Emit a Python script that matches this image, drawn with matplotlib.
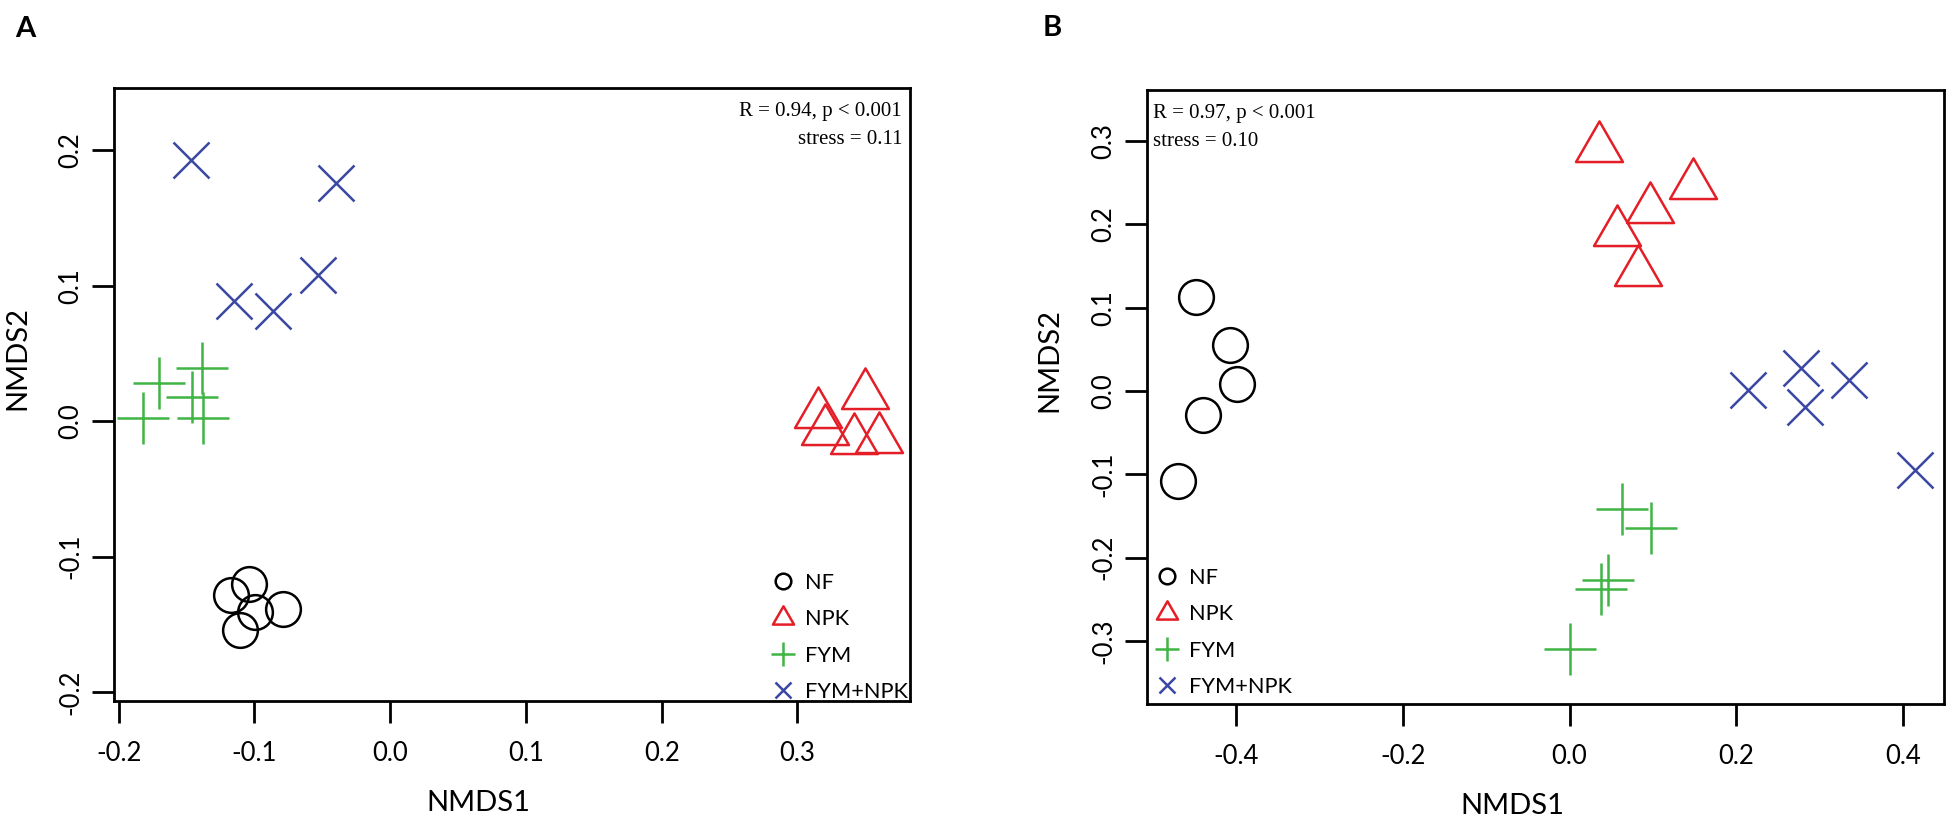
import matplotlib
matplotlib.use("Agg")
import matplotlib.pyplot as plt
from matplotlib.path import Path
from matplotlib.ticker import FormatStrFormatter

plt.rcParams['font.family'] = ['Lato', 'DejaVu Sans']
plt.rcParams['axes.unicode_minus'] = False

# ── data (NMDS scores) ───────────────────────────────────────────────────
groups = ["NF", "NPK", "FYM", "FYM+NPK"]

# panel A
a_nf_x = [-0.117, -0.104, -0.0995, -0.079, -0.111]
a_nf_y = [-0.128, -0.120, -0.141, -0.139, -0.154]
a_npk_x = [0.315, 0.350, 0.320, 0.342, 0.360]
a_npk_y = [0.005, 0.019, -0.007, -0.014, -0.013]
a_fym_x = [-0.170, -0.139, -0.146, -0.182, -0.138]
a_fym_y = [0.028, 0.039, 0.018, 0.002, 0.002]
a_mix_x = [-0.147, -0.040, -0.115, -0.086, -0.053]
a_mix_y = [0.193, 0.176, 0.089, 0.081, 0.108]

# panel B
b_nf_x = [-0.448, -0.407, -0.399, -0.439, -0.469]
b_nf_y = [0.113, 0.055, 0.008, -0.029, -0.108]
b_npk_x = [0.035, 0.148, 0.096, 0.057, 0.082]
b_npk_y = [0.292, 0.247, 0.218, 0.191, 0.143]
b_fym_x = [0.063, 0.098, 0.046, 0.038, 0.001]
b_fym_y = [-0.141, -0.164, -0.227, -0.237, -0.309]
b_mix_x = [0.214, 0.278, 0.335, 0.282, 0.414]
b_mix_y = [0.001, 0.027, 0.013, -0.019, -0.095]

a_stats = ["R = 0.94, p < 0.001", "stress = 0.11"]
b_stats = ["R = 0.97, p < 0.001", "stress = 0.10"]

a_xticks = [-0.2, -0.1, 0.0, 0.1, 0.2, 0.3]
a_yticks = [-0.2, -0.1, 0.0, 0.1, 0.2]
b_xticks = [-0.4, -0.2, 0.0, 0.2, 0.4]
b_yticks = [-0.3, -0.2, -0.1, 0.0, 0.1, 0.2, 0.3]

# ── styling ───────────────────────────────────────────────────────────────
colours = {"NF": "black", "NPK": "#E41E26", "FYM": "#40B444", "FYM+NPK": "#3A47A3"}

# R-style open triangle, centred on its centroid
tri = Path([(0, 1.0), (0.866, -0.5), (-0.866, -0.5), (0, 1.0)],
           [Path.MOVETO, Path.LINETO, Path.LINETO, Path.CLOSEPOLY])
markers = {"NF": ("o", 25), "NPK": (tri, 39), "FYM": ("+", 38), "FYM+NPK": ("x", 26)}


def draw_panel(ax, pts, xlim, ylim, xticks, yticks, stats, stats_right, leg_anchor):
    for name in groups:
        xs, ys = pts[name]
        m, ms = markers[name]
        ax.plot(xs, ys, linestyle="none", marker=m, markersize=ms,
                markerfacecolor="none", markeredgecolor=colours[name],
                markeredgewidth=1.8, color=colours[name], label=name)

    ax.set_xlim(*xlim)
    ax.set_ylim(*ylim)
    ax.set_xticks(xticks)
    ax.set_yticks(yticks)
    ax.xaxis.set_major_formatter(FormatStrFormatter("%.1f"))
    ax.yaxis.set_major_formatter(FormatStrFormatter("%.1f"))
    ax.tick_params(direction="out", length=15.8, width=2, labelsize=18.5)
    ax.tick_params(axis="x", pad=13)
    ax.tick_params(axis="y", pad=6)
    for lab in ax.get_yticklabels():
        lab.set_rotation(90)
        lab.set_va("center")
    for sp in ax.spines.values():
        sp.set_linewidth(2)

    ax.set_xlabel("NMDS1", fontsize=21, va="center")
    ax.xaxis.set_label_coords(0.458, -0.166)
    ax.set_ylabel("NMDS2", fontsize=21, va="center")
    ax.yaxis.set_label_coords(-0.122, 0.56)

    if stats_right:
        sx, ha = 0.99, "right"
    else:
        sx, ha = 0.0075, "left"
    for txt, sy in zip(stats, [0.962, 0.916]):
        ax.text(sx, sy, txt, transform=ax.transAxes, ha=ha, va="center",
                fontsize=15, family="Liberation Serif")

    ax.legend(loc="upper left", bbox_to_anchor=leg_anchor, frameon=False,
              fontsize=15.7, markerscale=0.45, handlelength=1.0,
              handletextpad=0.5, labelspacing=0.75, borderpad=0,
              borderaxespad=0)


fig = plt.figure(figsize=(19.5, 8.19), dpi=100)
ax_a = fig.add_axes([0.05846, 0.14408, 0.40821, 0.74847])
ax_b = fig.add_axes([0.58821, 0.14042, 0.40872, 0.74969])

pts_a = {"NF": (a_nf_x, a_nf_y), "NPK": (a_npk_x, a_npk_y),
         "FYM": (a_fym_x, a_fym_y), "FYM+NPK": (a_mix_x, a_mix_y)}
pts_b = {"NF": (b_nf_x, b_nf_y), "NPK": (b_npk_x, b_npk_y),
         "FYM": (b_fym_x, b_fym_y), "FYM+NPK": (b_mix_x, b_mix_y)}

draw_panel(ax_a, pts_a, (-0.2035, 0.383), (-0.2066, 0.246),
           a_xticks, a_yticks, a_stats, True, (0.8266, 0.209))
draw_panel(ax_b, pts_b, (-0.5067, 0.449), (-0.3755, 0.361),
           b_xticks, b_yticks, b_stats, False, (0.0113, 0.2215))

fig.text(0.0128, 0.9646, "A", fontsize=21, fontweight="bold", ha="center", va="center")
fig.text(0.5395, 0.966, "B", fontsize=21, fontweight="bold", ha="center", va="center")

fig.savefig("out.png", dpi=100)
plt.close(fig)
